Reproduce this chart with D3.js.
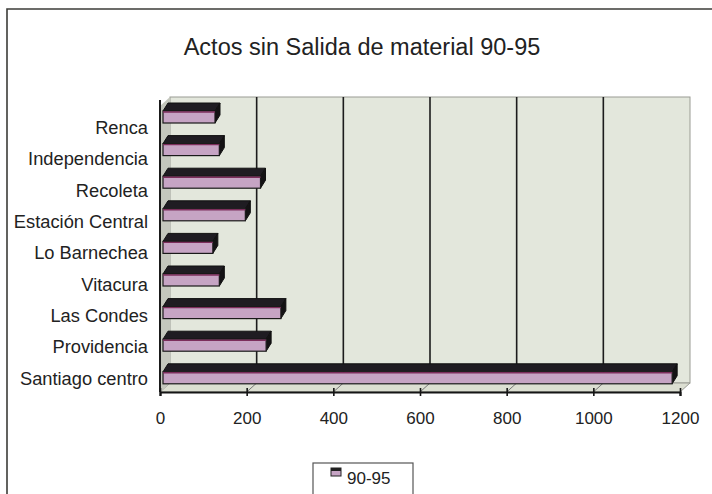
<!DOCTYPE html>
<html><head><meta charset="utf-8">
<script src="https://cdn.jsdelivr.net/npm/d3@7"></script>
<style>
html,body{margin:0;padding:0;background:#fff;}
svg{display:block;}
text{font-family:"Liberation Sans",Arial,Helvetica,sans-serif;fill:#222;}
</style></head>
<body>
<svg id="chart" width="712" height="494"></svg>
<script>
const title = "Actos sin Salida de material 90-95";
const categories = ["Renca","Independencia","Recoleta","Estación Central","Lo Barnechea","Vitacura","Las Condes","Providencia","Santiago centro"];
const values = [120,130,225,190,115,130,272,238,1175];
const xTicks = [0,200,400,600,800,1000,1200];
const seriesName = "90-95";

const svg = d3.select("#chart");
const W = 712, H = 494;
svg.append("rect").attr("width",W).attr("height",H).attr("fill","#fff");

// outer border (partially cropped)
svg.append("path").attr("d","M7,494 L7,9 L712,9").attr("fill","none").attr("stroke","#3c3c38").attr("stroke-width",1.6);

// title
svg.append("text").attr("x",362).attr("y",55).attr("text-anchor","middle")
  .style("font-size","23.5px").text(title);

// scales
const x = d3.scaleLinear().domain([0,1200]).range([160,680]);
const yBar = d3.scaleBand().domain(categories).range([100.7,394.1]);
const yLab = d3.scaleBand().domain(categories).range([112.3,394.7]);

const DX = 10, DY = -9;          // depth offset of the box
const frontBottom = 392, backTop = 97;
const x0 = x(0), x1 = x(1200);

// back wall
svg.append("rect").attr("x",x0+DX).attr("y",backTop).attr("width",x1-x0).attr("height",frontBottom+DY-backTop)
  .attr("fill","#e3e7dc").attr("stroke","#9a9c94").attr("stroke-width",1);
// floor
svg.append("path").attr("d",`M${x0},${frontBottom} L${x1},${frontBottom} L${x1+DX},${frontBottom+DY} L${x0+DX},${frontBottom+DY} Z`)
  .attr("fill","#dcdfd2").attr("stroke","#9a9c94").attr("stroke-width",1);
// left wall
svg.append("path").attr("d",`M${x0},${frontBottom} L${x0},${backTop-DY} L${x0+DX},${backTop} L${x0+DX},${frontBottom+DY} Z`)
  .attr("fill","#c4c7bd");

// back wall gridlines
svg.append("g").selectAll("line").data(xTicks.slice(1,-1)).join("line")
  .attr("x1",d=>x(d)+DX).attr("x2",d=>x(d)+DX)
  .attr("y1",backTop).attr("y2",frontBottom+DY)
  .attr("stroke","#1c1c1c").attr("stroke-width",1.6);
// floor gridlines
svg.append("g").selectAll("line").data(xTicks.slice(1,-1)).join("line")
  .attr("x1",d=>x(d)).attr("x2",d=>x(d)+DX)
  .attr("y1",frontBottom).attr("y2",frontBottom+DY)
  .attr("stroke","#777").attr("stroke-width",1);

// bars (3D)
const bdx = 5, bdy = -8, bh = 12, off = 3;
const bars = svg.append("g").selectAll("g").data(categories).join("g");
bars.each(function(c,i){
  const g = d3.select(this);
  const cy = yBar(c) + yBar.bandwidth()/2;
  const xl = x(0)+off, xr = x(values[i])+off;
  const yt = cy - bh/2, yb = cy + bh/2;
  g.append("path").attr("d",`M${xl},${yt} L${xr},${yt} L${xr+bdx},${yt+bdy} L${xl+bdx},${yt+bdy} Z`)
    .attr("fill","#1f1c22").attr("stroke","#111").attr("stroke-width",1);
  g.append("path").attr("d",`M${xr},${yt} L${xr+bdx},${yt+bdy} L${xr+bdx},${yb+bdy} L${xr},${yb} Z`)
    .attr("fill","#141214").attr("stroke","#111").attr("stroke-width",1);
  g.append("rect").attr("x",xl).attr("y",yt).attr("width",xr-xl).attr("height",bh)
    .attr("fill","#c6a4c4").attr("stroke","#1a1a1a").attr("stroke-width",1.2);
  g.append("line").attr("x1",xl).attr("x2",xr).attr("y1",yt+1).attr("y2",yt+1)
    .attr("stroke","#7c2e5c").attr("stroke-width",1.4);
});

// front left edge
svg.append("line").attr("x1",x0).attr("x2",x0).attr("y1",backTop+3).attr("y2",frontBottom)
  .attr("stroke","#1a1a1a").attr("stroke-width",2);

// bottom axis
const xAxis = svg.append("g").attr("transform",`translate(0,${frontBottom})`)
  .call(d3.axisBottom(x).tickValues(xTicks).tickSize(4).tickPadding(16).tickFormat(d3.format("d")));
xAxis.select(".domain").attr("stroke","#151515").attr("stroke-width",2.2);
xAxis.selectAll(".tick line").attr("y1",-4).attr("stroke","#151515").attr("stroke-width",1.6);
xAxis.selectAll("text").style("font-size","17px").attr("fill","#222").style("font-family","'Liberation Sans',Arial,sans-serif");

// category axis
const yAxis = svg.append("g").attr("transform",`translate(${x0},0)`)
  .call(d3.axisLeft(yLab).tickSize(0).tickPadding(12));
yAxis.select(".domain").remove();
yAxis.selectAll("text").style("font-size","18.3px").attr("fill","#222").style("font-family","'Liberation Sans',Arial,sans-serif");

// legend
const lg = svg.append("g");
lg.append("rect").attr("x",313).attr("y",463).attr("width",100).attr("height",40)
  .attr("fill","#fff").attr("stroke","#555").attr("stroke-width",1.2);
lg.append("rect").attr("x",331).attr("y",468).attr("width",10).attr("height",8)
  .attr("fill","#c6a4c4").attr("stroke","#222").attr("stroke-width",1);
lg.append("rect").attr("x",331).attr("y",468).attr("width",10).attr("height",3).attr("fill","#222");
lg.append("text").attr("x",347).attr("y",484).style("font-size","17px").text(seriesName);
</script>
</body></html>
